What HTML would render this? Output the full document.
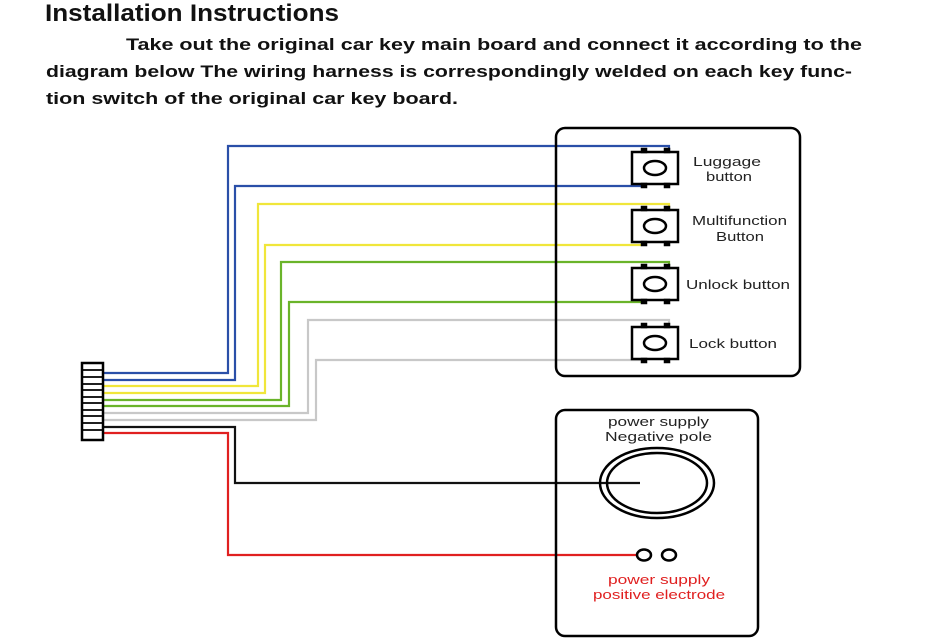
<!DOCTYPE html>
<html><head><meta charset="utf-8"><style>
html,body{margin:0;padding:0;background:#fff;}
svg{display:block}
text{font-family:"Liberation Sans",Arial,sans-serif;}
</style></head><body>
<svg width="930" height="644" viewBox="0 0 930 644" xmlns="http://www.w3.org/2000/svg">
<text x="45" y="21" font-size="24" font-weight="bold" textLength="294" lengthAdjust="spacingAndGlyphs" fill="#111">Installation Instructions</text>
<text x="126" y="50" font-size="17" font-weight="bold" textLength="736" lengthAdjust="spacingAndGlyphs" fill="#111">Take out the original car key main board and connect it according to the</text>
<text x="46" y="77" font-size="17" font-weight="bold" textLength="806" lengthAdjust="spacingAndGlyphs" fill="#111">diagram below The wiring harness is correspondingly welded on each key func-</text>
<text x="46" y="104" font-size="17" font-weight="bold" textLength="412" lengthAdjust="spacingAndGlyphs" fill="#111">tion switch of the original car key board.</text>

<g fill="none" stroke-width="2.2">
<polyline stroke="#2a4fa8" points="103,373 228,373 228,146 669,146 669,152"/>
<polyline stroke="#2a4fa8" points="103,380 235,380 235,186 642,186"/>
<polyline stroke="#f0e63a" points="103,386 258,386 258,204 669,204 669,210"/>
<polyline stroke="#f0e63a" points="103,393 265,393 265,245 642,245"/>
<polyline stroke="#6ab42a" points="103,400 281,400 281,262 669,262 669,268"/>
<polyline stroke="#6ab42a" points="103,406 289,406 289,302 642,302"/>
<polyline stroke="#c8c8c8" points="103,413 308,413 308,320 669,320 669,326"/>
<polyline stroke="#c8c8c8" points="103,420 316,420 316,360 642,360"/>
<polyline stroke="#111" points="103,427 235,427 235,483 640,483"/>
<polyline stroke="#e02020" points="103,433 228,433 228,555 637,555"/>
</g>

<rect x="82" y="363" width="21" height="77" stroke="#000" fill="#fff" stroke-width="2.5"/>
<g stroke="#000" stroke-width="1.8">
<line x1="82" y1="370" x2="103" y2="370"/><line x1="82" y1="377" x2="103" y2="377"/>
<line x1="82" y1="384" x2="103" y2="384"/><line x1="82" y1="390" x2="103" y2="390"/>
<line x1="82" y1="397" x2="103" y2="397"/><line x1="82" y1="403" x2="103" y2="403"/>
<line x1="82" y1="410" x2="103" y2="410"/><line x1="82" y1="416" x2="103" y2="416"/>
<line x1="82" y1="423" x2="103" y2="423"/><line x1="82" y1="430" x2="103" y2="430"/>
</g>

<rect x="556" y="128" width="244" height="248" rx="9" fill="none" stroke="#000" stroke-width="2.5"/>
<g stroke="#000" stroke-width="2.5" fill="#fff">
<g transform="translate(632,152)"><rect x="0" y="0" width="46" height="32"/><ellipse cx="23" cy="16" rx="11" ry="7"/>
<rect x="10" y="-3" width="4" height="3" fill="#000"/><rect x="33" y="-3" width="4" height="3" fill="#000"/><rect x="10" y="32" width="4" height="3" fill="#000"/><rect x="33" y="32" width="4" height="3" fill="#000"/></g>
<g transform="translate(632,210)"><rect x="0" y="0" width="46" height="32"/><ellipse cx="23" cy="16" rx="11" ry="7"/>
<rect x="10" y="-3" width="4" height="3" fill="#000"/><rect x="33" y="-3" width="4" height="3" fill="#000"/><rect x="10" y="32" width="4" height="3" fill="#000"/><rect x="33" y="32" width="4" height="3" fill="#000"/></g>
<g transform="translate(632,268)"><rect x="0" y="0" width="46" height="32"/><ellipse cx="23" cy="16" rx="11" ry="7"/>
<rect x="10" y="-3" width="4" height="3" fill="#000"/><rect x="33" y="-3" width="4" height="3" fill="#000"/><rect x="10" y="32" width="4" height="3" fill="#000"/><rect x="33" y="32" width="4" height="3" fill="#000"/></g>
<g transform="translate(632,327)"><rect x="0" y="0" width="46" height="32"/><ellipse cx="23" cy="16" rx="11" ry="7"/>
<rect x="10" y="-3" width="4" height="3" fill="#000"/><rect x="33" y="-3" width="4" height="3" fill="#000"/><rect x="10" y="32" width="4" height="3" fill="#000"/><rect x="33" y="32" width="4" height="3" fill="#000"/></g>
</g>
<g font-size="13" fill="#222">
<text x="693" y="166" textLength="68" lengthAdjust="spacingAndGlyphs">Luggage</text>
<text x="706" y="181" textLength="46" lengthAdjust="spacingAndGlyphs">button</text>
<text x="692" y="225" textLength="95" lengthAdjust="spacingAndGlyphs">Multifunction</text>
<text x="716" y="241" textLength="48" lengthAdjust="spacingAndGlyphs">Button</text>
<text x="686" y="289" textLength="104" lengthAdjust="spacingAndGlyphs">Unlock button</text>
<text x="689" y="348" textLength="88" lengthAdjust="spacingAndGlyphs">Lock button</text>
</g>

<rect x="556" y="410" width="202" height="226" rx="9" fill="none" stroke="#000" stroke-width="2.5"/>
<g font-size="13">
<text x="608" y="426" fill="#222" textLength="101" lengthAdjust="spacingAndGlyphs">power supply</text>
<text x="605" y="441" fill="#222" textLength="107" lengthAdjust="spacingAndGlyphs">Negative pole</text>
<text x="608" y="584" fill="#e02020" textLength="102" lengthAdjust="spacingAndGlyphs">power supply</text>
<text x="593" y="599" fill="#e02020" textLength="132" lengthAdjust="spacingAndGlyphs">positive electrode</text>
</g>
<ellipse cx="657" cy="483" rx="57" ry="35" fill="none" stroke="#000" stroke-width="2.5"/>
<ellipse cx="657" cy="483" rx="50" ry="30" fill="none" stroke="#000" stroke-width="2.5"/>
<circle cx="644" cy="555" r="0" />
<ellipse cx="644" cy="555" rx="7" ry="5.5" fill="#fff" stroke="#000" stroke-width="2.5"/>
<ellipse cx="669" cy="555" rx="7" ry="5.5" fill="#fff" stroke="#000" stroke-width="2.5"/>
</svg>
</body></html>
